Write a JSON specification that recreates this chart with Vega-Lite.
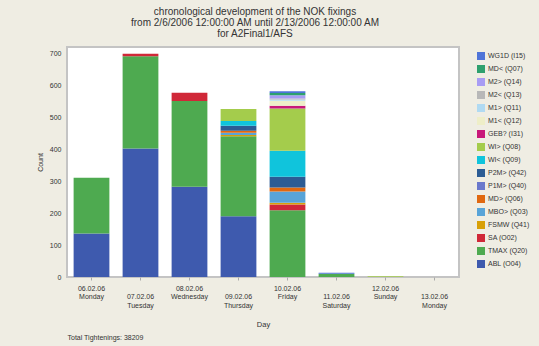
{
  "$schema": "https://vega.github.io/schema/vega-lite/v6.json",
  "autosize": "none",
  "width": 392,
  "height": 230,
  "padding": {"left": 67, "top": 47, "right": 80, "bottom": 69},
  "background": "#efede3",
  "title": {
    "text": ["chronological development of the NOK fixings", "from 2/6/2006 12:00:00 AM until 2/13/2006 12:00:00 AM", "for A2Final1/AFS"],
    "font": "Liberation Sans",
    "fontSize": 10,
    "fontWeight": "normal",
    "color": "#333333",
    "lineHeight": 11,
    "anchor": "middle",
    "dx": -8,
    "offset": 8
  },
  "config": {
    "view": {"fill": "white", "stroke": "#c4c4c4", "strokeWidth": 2},
    "font": "Liberation Sans"
  },
  "data": {
    "values": [
      {"day": "06.02.06 Monday", "code": "ABL (O04)", "count": 136},
      {"day": "06.02.06 Monday", "code": "TMAX (Q20)", "count": 174},
      {"day": "07.02.06 Tuesday", "code": "ABL (O04)", "count": 402},
      {"day": "07.02.06 Tuesday", "code": "TMAX (Q20)", "count": 288},
      {"day": "07.02.06 Tuesday", "code": "SA (O02)", "count": 8},
      {"day": "08.02.06 Wednesday", "code": "ABL (O04)", "count": 282},
      {"day": "08.02.06 Wednesday", "code": "TMAX (Q20)", "count": 268},
      {"day": "08.02.06 Wednesday", "code": "SA (O02)", "count": 26},
      {"day": "09.02.06 Thursday", "code": "ABL (O04)", "count": 190},
      {"day": "09.02.06 Thursday", "code": "TMAX (Q20)", "count": 250},
      {"day": "09.02.06 Thursday", "code": "FSMW (Q41)", "count": 4},
      {"day": "09.02.06 Thursday", "code": "MBO> (Q03)", "count": 7},
      {"day": "09.02.06 Thursday", "code": "MD> (Q06)", "count": 6},
      {"day": "09.02.06 Thursday", "code": "P2M> (Q42)", "count": 16},
      {"day": "09.02.06 Thursday", "code": "WI< (Q09)", "count": 15},
      {"day": "09.02.06 Thursday", "code": "WI> (Q08)", "count": 37},
      {"day": "10.02.06 Friday", "code": "TMAX (Q20)", "count": 209},
      {"day": "10.02.06 Friday", "code": "SA (O02)", "count": 18},
      {"day": "10.02.06 Friday", "code": "FSMW (Q41)", "count": 5},
      {"day": "10.02.06 Friday", "code": "MBO> (Q03)", "count": 35},
      {"day": "10.02.06 Friday", "code": "MD> (Q06)", "count": 13},
      {"day": "10.02.06 Friday", "code": "P2M> (Q42)", "count": 33},
      {"day": "10.02.06 Friday", "code": "WI< (Q09)", "count": 82},
      {"day": "10.02.06 Friday", "code": "WI> (Q08)", "count": 132},
      {"day": "10.02.06 Friday", "code": "GEB? (I31)", "count": 8},
      {"day": "10.02.06 Friday", "code": "M1< (Q12)", "count": 16},
      {"day": "10.02.06 Friday", "code": "M1> (Q11)", "count": 4},
      {"day": "10.02.06 Friday", "code": "M2< (Q13)", "count": 3},
      {"day": "10.02.06 Friday", "code": "M2> (Q14)", "count": 10},
      {"day": "10.02.06 Friday", "code": "MD< (Q07)", "count": 7},
      {"day": "10.02.06 Friday", "code": "WG1D (I15)", "count": 6},
      {"day": "11.02.06 Saturday", "code": "TMAX (Q20)", "count": 10},
      {"day": "11.02.06 Saturday", "code": "WG1D (I15)", "count": 3},
      {"day": "12.02.06 Sunday", "code": "WI> (Q08)", "count": 2}
    ]
  },
  "transform": [
    {"calculate": "indexof(['WG1D (I15)','MD< (Q07)','M2> (Q14)','M2< (Q13)','M1> (Q11)','M1< (Q12)','GEB? (I31)','WI> (Q08)','WI< (Q09)','P2M> (Q42)','P1M> (Q40)','MD> (Q06)','MBO> (Q03)','FSMW (Q41)','SA (O02)','TMAX (Q20)','ABL (O04)'], datum.code)", "as": "k"}
  ],
  "layer": [
    {
      "mark": {"type": "bar"},
      "encoding": {
        "x": {
          "field": "day",
          "type": "nominal",
          "sort": null,
          "scale": {
            "domain": ["06.02.06 Monday", "07.02.06 Tuesday", "08.02.06 Wednesday", "09.02.06 Thursday", "10.02.06 Friday", "11.02.06 Saturday", "12.02.06 Sunday", "13.02.06 Monday"],
            "paddingInner": 0.27,
            "paddingOuter": 0.135
          },
          "axis": {
            "title": "Day",
            "titleFontSize": 7.5,
            "titleFontWeight": "normal",
            "titleColor": "#333333",
            "titlePadding": 4,
            "labelAngle": 0,
            "labelFontSize": 7,
            "labelColor": "#333333",
            "labelLineHeight": 8.5,
            "labelPadding": 4,
            "labelExpr": "(parseInt(slice(datum.value,0,2)) % 2 == 0) ? split(datum.value, ' ') : [' ', ' ', split(datum.value, ' ')[0], split(datum.value, ' ')[1]]",
            "tickSize": 3,
            "tickColor": "#aaaaaa",
            "domain": false
          }
        },
        "y": {
          "field": "count",
          "type": "quantitative",
          "aggregate": "sum",
          "stack": "zero",
          "scale": {"domain": [0, 719], "nice": false},
          "axis": {
            "title": "Count",
            "titleFontSize": 7,
            "titleFontWeight": "normal",
            "titleColor": "#333333",
            "titlePadding": 6,
            "values": [0, 100, 200, 300, 400, 500, 600, 700],
            "labelFontSize": 7,
            "labelColor": "#333333",
            "labelPadding": 6,
            "tickSize": 0,
            "grid": false,
            "domain": false
          }
        },
        "color": {
          "field": "code",
          "type": "nominal",
          "scale": {
            "domain": ["WG1D (I15)", "MD< (Q07)", "M2> (Q14)", "M2< (Q13)", "M1> (Q11)", "M1< (Q12)", "GEB? (I31)", "WI> (Q08)", "WI< (Q09)", "P2M> (Q42)", "P1M> (Q40)", "MD> (Q06)", "MBO> (Q03)", "FSMW (Q41)", "SA (O02)", "TMAX (Q20)", "ABL (O04)"],
            "range": ["#4f74d8", "#2ea06e", "#a89cf4", "#b8b8b8", "#b0daf2", "#eeeec8", "#c8187a", "#a4cc4c", "#10c4dc", "#2c5c94", "#6a78cc", "#e06810", "#58a4d8", "#d8a008", "#d02838", "#4eaa50", "#3e5aae"]
          },
          "legend": {
            "title": null,
            "orient": "right",
            "offset": 13,
            "padding": 5,
            "symbolType": "square",
            "symbolSize": 64,
            "symbolStrokeWidth": 0,
            "symbolOpacity": 1,
            "labelFontSize": 7,
            "labelColor": "#333333",
            "labelOffset": 3,
            "rowPadding": 5
          }
        },
        "order": {"field": "k", "type": "quantitative", "sort": "descending"}
      }
    },
    {
      "mark": {"type": "point", "opacity": 0},
      "encoding": {
        "x": {
          "field": "day",
          "type": "nominal",
          "sort": null,
          "axis": {
            "orient": "bottom",
            "title": "Total Tightenings: 38209",
            "titleFontSize": 7,
            "titleFontWeight": "normal",
            "titleColor": "#333333",
            "titleAnchor": "start",
            "titleAlign": "left",
            "titleBaseline": "middle",
            "titleX": 0,
            "titleY": 60,
            "labels": false,
            "ticks": false,
            "domain": false
          }
        }
      }
    }
  ],
  "resolve": {"axis": {"x": "independent"}}
}
